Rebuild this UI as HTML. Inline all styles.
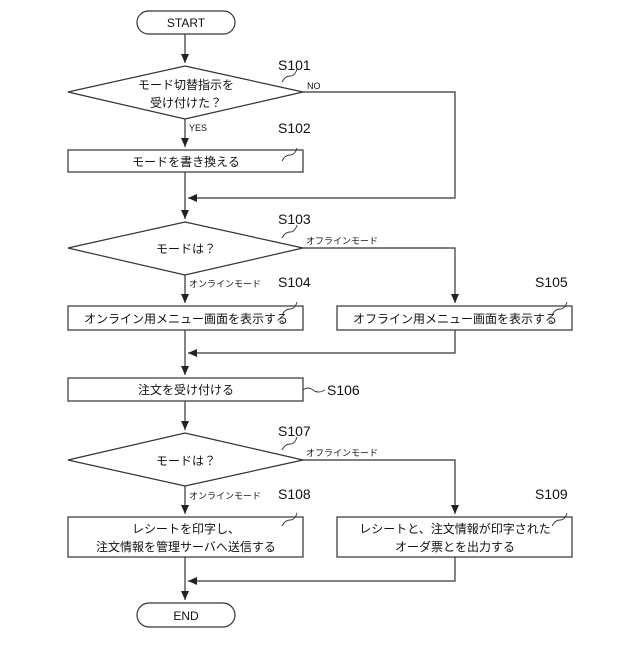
<!DOCTYPE html>
<html><head><meta charset="utf-8"><style>
html,body{margin:0;padding:0;background:#fff}
svg text{font-family:"Liberation Sans","Noto Sans CJK JP",sans-serif;fill:#111}
</style></head><body>
<svg width="640" height="640" viewBox="0 0 640 640" xmlns="http://www.w3.org/2000/svg">
<defs><marker id="a" markerWidth="8" markerHeight="8" refX="4" refY="4" orient="auto" markerUnits="userSpaceOnUse"><path d="M0,0 L8,4 L0,8 z" fill="#222"/></marker>
<marker id="b" markerWidth="10" markerHeight="10" refX="9" refY="4" orient="auto" markerUnits="userSpaceOnUse"><path d="M0,0 L9,4 L0,8 z" fill="#222"/></marker></defs>
<g stroke="#333" stroke-width="1.2" fill="none">
<rect x="137" y="11" width="98" height="23" rx="11.5" fill="#fff"/>
<rect x="137" y="603" width="98" height="24" rx="12" fill="#fff"/>
<polygon points="68,92 185,66 303,92 185,119" fill="#fff"/>
<polygon points="68,248 185,222 303,248 185,275" fill="#fff"/>
<polygon points="68,460 185,433 303,460 185,486" fill="#fff"/>
<rect x="68" y="150" width="235" height="22"/>
<rect x="68" y="306" width="235" height="24"/>
<rect x="337" y="306" width="235" height="24"/>
<rect x="68" y="378" width="235" height="23"/>
<rect x="68" y="517" width="235" height="40"/>
<rect x="337" y="517" width="235" height="40"/>
<line x1="185" y1="34" x2="185" y2="63" marker-end="url(#b)"/>
<line x1="185" y1="119" x2="185" y2="147" marker-end="url(#b)"/>
<line x1="185" y1="172" x2="185" y2="219" marker-end="url(#b)"/>
<polyline points="303,92 455,92 455,198 188,198" marker-end="url(#b)"/>
<line x1="185" y1="275" x2="185" y2="303" marker-end="url(#b)"/>
<polyline points="303,248 455,248 455,303" marker-end="url(#b)"/>
<line x1="185" y1="330" x2="185" y2="375" marker-end="url(#b)"/>
<polyline points="455,330 455,353 188,353" marker-end="url(#b)"/>
<line x1="185" y1="401" x2="185" y2="430" marker-end="url(#b)"/>
<line x1="185" y1="486" x2="185" y2="514" marker-end="url(#b)"/>
<polyline points="303,460 455,460 455,514" marker-end="url(#b)"/>
<line x1="185" y1="557" x2="185" y2="600" marker-end="url(#b)"/>
<polyline points="455,557 455,581 188,581" marker-end="url(#b)"/>
<g stroke-width="0.9">
<path d="M282,82 q3,-6 8,-6 q5,0 7,-7"/>
<path d="M282,161 q3,-6 8,-6 q5,0 7,-7"/>
<path d="M282,238 q3,-6 8,-6 q5,0 7,-7"/>
<path d="M282,315 q3,-6 8,-6 q5,0 7,-7"/>
<path d="M552,315 q3,-6 8,-6 q5,0 7,-7"/>
<path d="M303,390 q5,-4 10,0 q5,4 12,0"/>
<path d="M282,450 q3,-6 8,-6 q5,0 7,-7"/>
<path d="M282,526 q3,-6 8,-6 q5,0 7,-7"/>
<path d="M552,526 q3,-6 8,-6 q5,0 7,-7"/>
</g>
</g>
<g font-size="12" text-anchor="middle">
<text x="186" y="27">START</text>
<text x="186" y="620">END</text>
<text x="186" y="89">モード切替指示を</text>
<text x="186" y="107">受け付けた？</text>
<text x="186" y="166">モードを書き換える</text>
<text x="186" y="253">モードは？</text>
<text x="186" y="323">オンライン用メニュー画面を表示する</text>
<text x="455" y="323">オフライン用メニュー画面を表示する</text>
<text x="186" y="394">注文を受け付ける</text>
<text x="186" y="465">モードは？</text>
<text x="186" y="533">レシートを印字し、</text>
<text x="186" y="551">注文情報を管理サーバへ送信する</text>
<text x="455" y="533">レシートと、注文情報が印字された</text>
<text x="455" y="551">オーダ票とを出力する</text>
</g>
<g font-size="14">
<text x="278" y="70">S101</text>
<text x="278" y="133">S102</text>
<text x="278" y="224">S103</text>
<text x="278" y="287">S104</text>
<text x="535" y="287">S105</text>
<text x="327" y="395">S106</text>
<text x="278" y="436">S107</text>
<text x="278" y="499">S108</text>
<text x="535" y="499">S109</text>
</g>
<g font-size="9">
<text x="307" y="89">NO</text>
<text x="189" y="131">YES</text>
<text x="306" y="244">オフラインモード</text>
<text x="189" y="287">オンラインモード</text>
<text x="306" y="456">オフラインモード</text>
<text x="189" y="499">オンラインモード</text>
</g>
</svg>
</body></html>
